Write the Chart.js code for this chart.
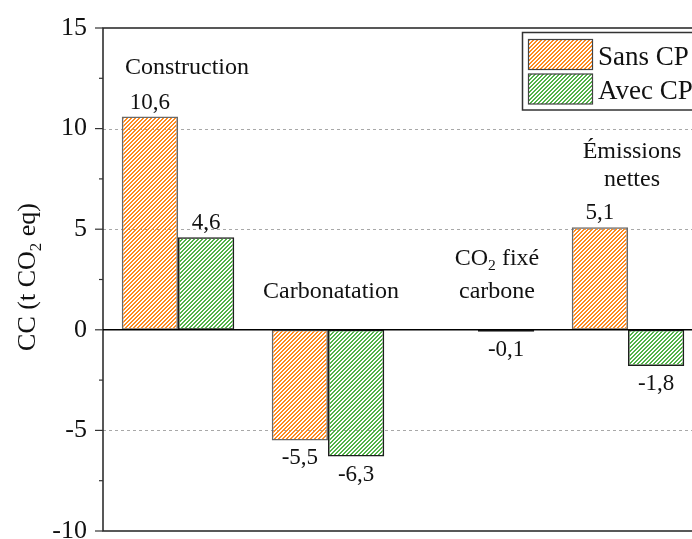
<!DOCTYPE html>
<html><head><meta charset="utf-8">
<script src="https://cdn.jsdelivr.net/npm/chart.js@4.4.0/dist/chart.umd.min.js"></script>
<style>html,body{margin:0;padding:0;overflow:hidden;background:#fff;width:692px;height:539px}
canvas{display:block}</style></head>
<body><canvas id="c" width="720" height="560" style="width:720px;height:560px"></canvas>
<script>
// ---- data ----
const categories = ['Construction', 'Carbonatation', 'CO2 fixé carbone', 'Émissions nettes'];
const categoryLines = [['Construction'], ['Carbonatation'], ['CO{2} fixé', 'carbone'], ['Émissions', 'nettes']];
const seriesNames = ['Sans CP', 'Avec CP'];
const sansCP = [10.6, -5.5, null, 5.1];
const avecCP = [4.6, -6.3, -0.1, -1.8];
const yMajorTicks = [-10, -5, 0, 5, 10, 15];
const yMinorTicks = [-7.5, -2.5, 2.5, 7.5, 12.5];
const dashedGrid = [-5, 5, 10];
const yAxisTitle = 'CC (t CO{2} eq)';

// ---- styles ----
const FONT = '"Liberation Serif", "Times New Roman", serif';
const ORANGE = '#FF8A1E', GREEN = '#52B348';
const canvas = document.getElementById('c');
const mainCtx = canvas.getContext('2d');
function hatch(color) {
  const s = 4, c = document.createElement('canvas');
  c.width = s; c.height = s;
  const g = c.getContext('2d');
  g.fillStyle = color;
  for (let px = 0; px < s; px++)
    for (let py = 0; py < s; py++)
      if ((px + py) % s < 2) g.fillRect(px, py, 1, 1);
  return mainCtx.createPattern(c, 'repeat');
}
const patterns = [hatch(ORANGE), hatch(GREEN)];
const borders = ['#6a6a6a', '#1e1e1e'];

// annotation placement (pixel offsets from category centre, baseline in data units)
const annotPos = [
  { dx: 9, y: [12.72] },
  { dx: 3, y: [1.58] },
  { dx: 19, y: [3.22, 1.58] },
  { dx: 4, y: [8.52, 7.15] }
];

function richParts(str) {
  return str.split(/(\{[^}]*\})/).filter(Boolean)
    .map(p => p.startsWith('{') ? { t: p.slice(1, -1), sub: true } : { t: p, sub: false });
}
function drawRich(ctx, str, cx, y, size) {
  const parts = richParts(str);
  let w = 0;
  parts.forEach(p => { ctx.font = `${p.sub ? size * 0.65 : size}px ${FONT}`; p.w = ctx.measureText(p.t).width; w += p.w; });
  let x = cx - w / 2;
  ctx.textAlign = 'left'; ctx.textBaseline = 'alphabetic';
  parts.forEach(p => {
    ctx.font = `${p.sub ? size * 0.65 : size}px ${FONT}`;
    ctx.fillText(p.t, x, y + (p.sub ? size * 0.22 : 0));
    x += p.w;
  });
}

const decor = {
  id: 'decor',
  beforeDatasetsDraw(chart) {
    const { ctx, chartArea: a, scales: { y } } = chart;
    ctx.save();
    ctx.strokeStyle = '#a8a8a8'; ctx.lineWidth = 1; ctx.setLineDash([3, 3]);
    dashedGrid.forEach(v => {
      const py = Math.round(y.getPixelForValue(v)) + 0.5;
      ctx.beginPath(); ctx.moveTo(a.left, py); ctx.lineTo(a.right, py); ctx.stroke();
    });
    ctx.restore();
  },
  afterDatasetsDraw(chart) {
    const { ctx, chartArea: a, scales: { x, y } } = chart;
    ctx.save();
    // frame
    ctx.strokeStyle = '#222'; ctx.lineWidth = 1.5;
    const top = y.getPixelForValue(15), bot = y.getPixelForValue(-10), zero = y.getPixelForValue(0);
    ctx.beginPath();
    ctx.moveTo(a.right, top); ctx.lineTo(a.left, top); ctx.lineTo(a.left, bot); ctx.lineTo(a.right, bot);
    ctx.stroke();
    ctx.strokeStyle = '#000';
    ctx.beginPath(); ctx.moveTo(a.left, zero); ctx.lineTo(a.right, zero); ctx.stroke();
    // ticks
    ctx.strokeStyle = '#333'; ctx.lineWidth = 1.2;
    yMajorTicks.forEach(v => { const py = y.getPixelForValue(v); ctx.beginPath(); ctx.moveTo(a.left - 8, py); ctx.lineTo(a.left, py); ctx.stroke(); });
    yMinorTicks.forEach(v => { const py = y.getPixelForValue(v); ctx.beginPath(); ctx.moveTo(a.left - 4, py); ctx.lineTo(a.left, py); ctx.stroke(); });
    // value labels
    ctx.fillStyle = '#111';
    ctx.font = `23px ${FONT}`; ctx.textAlign = 'center'; ctx.textBaseline = 'alphabetic';
    chart.data.datasets.forEach((ds, di) => {
      const meta = chart.getDatasetMeta(di);
      ds.data.forEach((v, i) => {
        if (v === null) return;
        const el = meta.data[i];
        const txt = v.toFixed(1).replace('.', ',');
        ctx.fillText(txt, el.x, v >= 0 ? el.y - 8 : el.y + 24);
      });
    });
    // category annotations
    categoryLines.forEach((lines, i) => {
      const cx = x.getPixelForValue(i) + annotPos[i].dx;
      lines.forEach((ln, k) => drawRich(ctx, ln, cx, y.getPixelForValue(annotPos[i].y[k]), 24));
    });
    // axis title
    ctx.save();
    ctx.translate(35, 277);
    ctx.rotate(-Math.PI / 2);
    drawRich(ctx, yAxisTitle, 0, 0, 26);
    ctx.restore();
    // legend
    ctx.fillStyle = '#fff';
    ctx.fillRect(522.5, 32.5, 200, 77.5);
    ctx.strokeStyle = '#333'; ctx.lineWidth = 1.5;
    ctx.strokeRect(522.5, 32.5, 200, 77.5);
    chart.data.datasets.forEach((ds, di) => {
      const sy = 39.5 + di * 34.5;
      ctx.fillStyle = ds.backgroundColor;
      ctx.fillRect(528.5, sy, 64, 30);
      ctx.strokeStyle = '#444'; ctx.lineWidth = 1.2;
      ctx.strokeRect(528.5, sy, 64, 30);
      ctx.fillStyle = '#111';
      ctx.font = `27px ${FONT}`; ctx.textAlign = 'left'; ctx.textBaseline = 'alphabetic';
      ctx.fillText(ds.label, 598, 64.5 + di * 34.5);
    });
    ctx.restore();
  }
};

new Chart(canvas, {
  type: 'bar',
  data: {
    labels: categories,
    datasets: [
      { label: seriesNames[0], data: sansCP, backgroundColor: patterns[0], borderColor: borders[0], borderWidth: 1.5, borderSkipped: false },
      { label: seriesNames[1], data: avecCP, backgroundColor: patterns[1], borderColor: borders[1], borderWidth: 1.5, borderSkipped: false }
    ]
  },
  options: {
    responsive: false,
    animation: false,
    devicePixelRatio: 1,
    layout: { padding: { left: 0, top: 28, right: 17, bottom: 29 } },
    datasets: { bar: { categoryPercentage: 0.75, barPercentage: 1.0 } },
    plugins: { legend: { display: false }, tooltip: { enabled: false }, title: { display: false } },
    scales: {
      x: { display: false },
      y: {
        min: -10, max: 15,
        afterFit: s => { s.width = 103; s.paddingTop = 0; s.paddingBottom = 0; },
        afterBuildTicks: s => { s.ticks = yMajorTicks.map(v => ({ value: v })); },
        ticks: { padding: 16, color: '#111', font: { family: FONT, size: 26 } },
        grid: { display: false, drawTicks: false },
        border: { display: false }
      }
    }
  },
  plugins: [decor]
});
</script>
</body></html>
